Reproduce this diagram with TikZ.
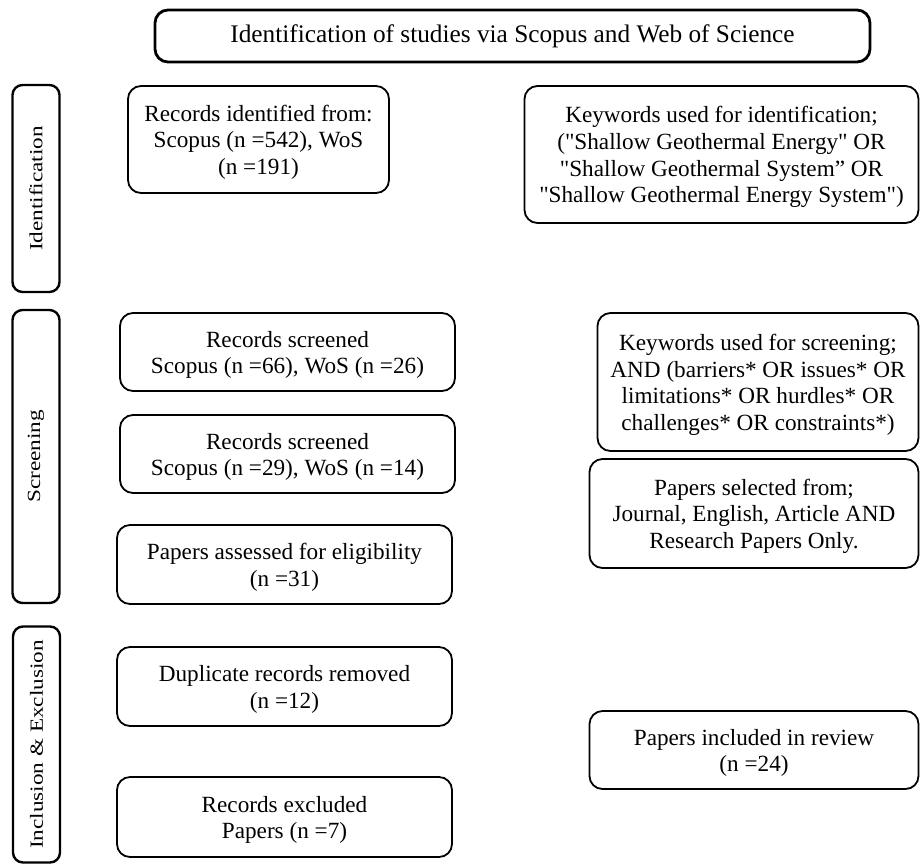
\documentclass[tikz,border=0pt]{standalone}
\usepackage{fontspec}
\setmainfont{Liberation Serif}
\newcommand{\sidelabel}[1]{\rotatebox{90}{\scalebox{1}[0.8]{#1}}}
\newcommand{\lowtxt}[1]{\raisebox{-3pt}[\height][\depth]{\begin{tabular}{@{}c@{}}#1\end{tabular}}}
\begin{document}
\begin{tikzpicture}[x=1pt,y=-1pt,
  box/.style={draw, rounded corners=13pt, line width=1.8pt, align=center, inner sep=0pt,
    font=\fontsize{23.2}{26.6}\selectfont},
  side/.style={draw, rounded corners=10pt, line width=2.4pt, inner sep=0pt,
    font=\fontsize{23.2}{26}\selectfont},
  ]
\useasboundingbox (0,0) rectangle (920,863);
\node[box, line width=2.8pt, minimum width=715pt, minimum height=52pt,
  font=\fontsize{25.3}{28}\selectfont] (title) at (512.5,36)
  {Identification of studies via Scopus and Web of Science};
\node[side, minimum width=47pt, minimum height=207pt] (lid) at (36,188.5)
  {\sidelabel{Identification}};
\node[side, minimum width=47pt, minimum height=293pt] (lscr) at (36,456.5)
  {\sidelabel{Screening}};
\node[side, minimum width=47pt, minimum height=236pt] (linc) at (36.5,744.5)
  {\sidelabel{Inclusion \& Exclusion}};
\node[box, minimum width=261pt, minimum height=107pt] (rid) at (258.5,139.5)
  {\lowtxt{Records identified from:\\Scopus (n =542), WoS\\(n =191)}};
\node[box, minimum width=394pt, minimum height=137pt] (kid) at (721.5,154.5)
  {\lowtxt{Keywords used for identification;\\(\textquotedbl Shallow Geothermal Energy\textquotedbl{} OR\\\textquotedbl Shallow Geothermal System” OR\\\textquotedbl Shallow Geothermal Energy System\textquotedbl)}};
\node[box, minimum width=335pt, minimum height=78pt] (rs1) at (287.5,352)
  {\lowtxt{Records screened\\Scopus (n =66), WoS (n =26)}};
\node[box, minimum width=335pt, minimum height=78pt] (rs2) at (287.5,454)
  {\lowtxt{Records screened\\Scopus (n =29), WoS (n =14)}};
\node[box, minimum width=335pt, minimum height=79pt] (pa) at (284.5,564.5)
  {\lowtxt{Papers assessed for eligibility\\(n =31)}};
\node[box, minimum width=321pt, minimum height=138pt] (ks) at (758,382)
  {\lowtxt{Keywords used for screening;\\AND (barriers* OR issues* OR\\limitations* OR hurdles* OR\\challenges* OR constraints*)}};
\node[box, minimum width=329pt, minimum height=109pt] (ps) at (754,513.5)
  {\lowtxt{Papers selected from;\\Journal, English, Article AND\\Research Papers Only.}};
\node[box, minimum width=335pt, minimum height=79pt] (dup) at (284.5,686.5)
  {\lowtxt{Duplicate records removed\\(n =12)}};
\node[box, minimum width=335pt, minimum height=80pt] (rex) at (284.5,817)
  {\lowtxt{Records excluded\\Papers (n =7)}};
\node[box, minimum width=329pt, minimum height=78pt] (pinc) at (754,750)
  {\lowtxt{Papers included in review\\(n =24)}};
\end{tikzpicture}
\end{document}
